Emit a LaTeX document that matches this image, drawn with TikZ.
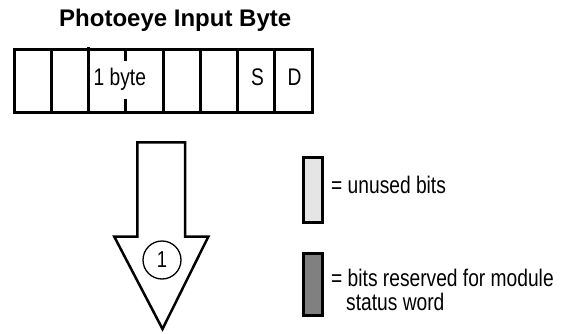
\documentclass[tikz,border=0pt]{standalone}
\usepackage{fontspec}
\setmainfont{Liberation Sans}[FakeStretch=0.8]
\newfontfamily\titlefont{Liberation Sans}
\usetikzlibrary{positioning}

\begin{document}
\begin{tikzpicture}[
  x=1pt,y=-1pt,
  bytebox/.style={
    draw,
    line width=3pt
  },
  bitlabel/.style={
    anchor=base,
    font=\fontsize{24}{28}\selectfont,
    inner sep=0pt
  },
  legendbox/.style={
    draw,
    line width=3pt
  },
  legendtext/.style={
    anchor=base west,
    font=\fontsize{24}{28}\selectfont,
    inner sep=0pt
  }
]
\useasboundingbox (0,0) rectangle (572,334);
\node[anchor=base west,inner sep=0pt,font=\titlefont\bfseries\fontsize{24}{28}\selectfont] (title) at (59,27) {Photoeye Input Byte};
% the byte and its eight bits
\draw[bytebox] (14,50) rectangle (312,112);
\foreach \i in {1,3,4,5,6,7} {
  \draw[line width=3pt] (14+37.25*\i,50) -- (14+37.25*\i,112);
}
\draw[line width=3pt] (88.5,47) -- (88.5,112);
\node[bitlabel,fill=white,inner xsep=1.5pt,inner ysep=8pt,anchor=base west] (byte) at (92,86) {1 byte};
\node[bitlabel] (sbit) at (257.5,86) {S};
\node[bitlabel] (dbit) at (294.5,86) {D};
% big arrow
\draw[line width=2.5pt,line join=miter] (137.3,142.3) -- (185,142.3) -- (185,236.7)
  -- (208.3,236.7) -- (162.5,329) -- (114.3,236.7) -- (137.3,236.7) -- cycle;
\node[circle,draw,line width=1.3pt,minimum size=38pt,inner sep=0pt,font=\fontsize{23}{27}\selectfont] (one) at (162,260) {1};
% legend
\draw[legendbox,fill=gray!20] (303,157) rectangle (322,222);
\draw[legendbox,fill=black!50] (303,253) rectangle (322,315);
\node[legendtext] (unused) at (331,193) {= unused bits};
\node[legendtext] (reserved) at (331,286) {= bits reserved for module};
\node[legendtext] (status) at (346,310) {status word};
\end{tikzpicture}
\end{document}
